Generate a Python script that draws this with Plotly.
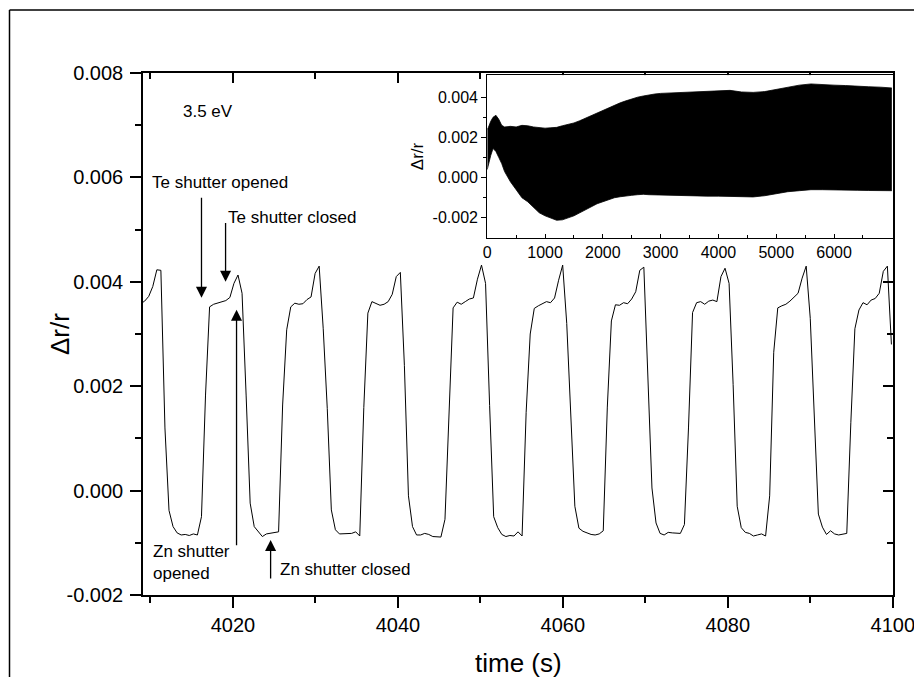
import numpy as np
import plotly.graph_objects as go

# ---------------- data ----------------
# main trace: sampled every 0.492 s starting at 4008.808 s
T_START = 4008.808
T_STEP = 0.492
DR_MAIN = [
    0.00358, 0.00363, 0.00372, 0.00391, 0.00423, 0.00422, 0.00120, -0.00038, -0.00069, -0.00081,
    -0.00085, -0.00084, -0.00086, -0.00083, -0.00085,
    -0.00050, 0.00183, 0.00352, 0.00357, 0.00359, 0.00361, 0.00364, 0.00370, 0.00397, 0.00413,
    0.00378, 0.00183, -0.00024, -0.00069, -0.00079, -0.00088, -0.00083, -0.00082, -0.00081, -0.00079,
    0.00164, 0.00308, 0.00352, 0.00359, 0.00357, 0.00358, 0.00366, 0.00371, 0.00416, 0.00430,
    0.00310, 0.00157, -0.00037, -0.00075, -0.00083, -0.00083, -0.00082, -0.00082, -0.00079, -0.00087,
    0.00159, 0.00340, 0.00362, 0.00358, 0.00355, 0.00357, 0.00362, 0.00376, 0.00410, 0.00418,
    0.00240, -0.00010, -0.00069, -0.00085, -0.00085, -0.00082, -0.00084, -0.00088, -0.00089, -0.00089,
    -0.00055, 0.00168, 0.00350, 0.00361, 0.00357, 0.00362, 0.00367, 0.00369, 0.00405, 0.00432,
    0.00397, 0.00163, -0.00050, -0.00071, -0.00084, -0.00088, -0.00086, -0.00087, -0.00079, -0.00087,
    0.00150, 0.00300, 0.00349, 0.00354, 0.00358, 0.00362, 0.00360, 0.00369, 0.00403, 0.00432,
    0.00320, 0.00140, -0.00030, -0.00072, -0.00078, -0.00081, -0.00084, -0.00085, -0.00083, -0.00077,
    0.00160, 0.00325, 0.00356, 0.00355, 0.00360, 0.00358, 0.00367, 0.00381, 0.00422, 0.00428,
    0.00220, 0.00005, -0.00062, -0.00082, -0.00085, -0.00080, -0.00081, -0.00082, -0.00082, -0.00065,
    0.00120, 0.00341, 0.00360, 0.00362, 0.00357, 0.00363, 0.00365, 0.00362, 0.00410, 0.00426,
    0.00397, 0.00203, -0.00030, -0.00071, -0.00080, -0.00082, -0.00087, -0.00085, -0.00083, -0.00087,
    -0.00010, 0.00265, 0.00350, 0.00354, 0.00357, 0.00363, 0.00370, 0.00378, 0.00407, 0.00430,
    0.00330, 0.00155, -0.00045, -0.00070, -0.00084, -0.00077, -0.00083, -0.00085, -0.00083, -0.00082,
    0.00130, 0.00310, 0.00346, 0.00360, 0.00356, 0.00365, 0.00368, 0.00378, 0.00420, 0.00430,
    0.00280,
]
TIME_MAIN = T_START + T_STEP * np.arange(len(DR_MAIN))

# inset: envelope of the full growth run
INSET_T = [0, 20, 60, 100, 150, 200, 250, 300, 400, 500, 600, 700, 800, 900, 1000, 1100, 1200,
           1300, 1400, 1500, 1600, 1700, 1800, 1900, 2000, 2100, 2200, 2300, 2400, 2500, 2600,
           2700, 2800, 2900, 3000, 3200, 3400, 3600, 3800, 4000, 4200, 4400, 4600, 4800, 5000,
           5200, 5400, 5600, 5800, 6000, 6200, 6400, 6600, 6800, 7000]
INSET_UPPER = [0.0024, 0.0025, 0.0028, 0.0030, 0.0031, 0.0029, 0.0026, 0.00252, 0.00255, 0.00252,
               0.00260, 0.00258, 0.00252, 0.00250, 0.00246, 0.00248, 0.00250, 0.00258, 0.00264,
               0.00272, 0.00283, 0.00296, 0.00308, 0.00320, 0.00333, 0.00348, 0.00362, 0.00372,
               0.00382, 0.00392, 0.00400, 0.00406, 0.00412, 0.00416, 0.00419, 0.00422, 0.00425,
               0.00427, 0.00430, 0.00432, 0.00434, 0.00426, 0.00424, 0.00428, 0.00438, 0.00450,
               0.00460, 0.00466, 0.00462, 0.00460, 0.00458, 0.00454, 0.00452, 0.00450, 0.00446]
INSET_LOWER = [0.0004, 0.0007, 0.0011, 0.00145, 0.0013, 0.0010, 0.0007, 0.0003, -0.0002, -0.0006,
               -0.0010, -0.0012, -0.0015, -0.00175, -0.0019, -0.0020, -0.00212, -0.0021, -0.0020,
               -0.0019, -0.00175, -0.0016, -0.00145, -0.0013, -0.0012, -0.0011, -0.0010, -0.00095,
               -0.0009, -0.00088, -0.00085, -0.00083, -0.00085, -0.00086, -0.00087, -0.00088,
               -0.0009, -0.0009, -0.00092, -0.00092, -0.00093, -0.00095, -0.00096, -0.0009,
               -0.0008, -0.0007, -0.00065, -0.0006, -0.0006, -0.00062, -0.00062, -0.00063,
               -0.00064, -0.00064, -0.00065]

X_TICKS = [4020, 4040, 4060, 4080, 4100]
X_TICK_TEXT = ["4020", "4040", "4060", "4080", "4100"]
X_MINOR = [4010, 4030, 4050, 4070, 4090]
Y_TICKS = [-0.002, 0.0, 0.002, 0.004, 0.006, 0.008]
Y_TICK_TEXT = ["-0.002", "0.000", "0.002", "0.004", "0.006", "0.008"]
Y_MINOR = [-0.001, 0.001, 0.003, 0.005, 0.007]
IX_TICKS = [0, 1000, 2000, 3000, 4000, 5000, 6000]
IX_TICK_TEXT = ["0", "1000", "2000", "3000", "4000", "5000", "6000"]
IX_MINOR = [500, 1500, 2500, 3500, 4500, 5500, 6500]
IY_TICKS = [-0.002, 0.0, 0.002, 0.004]
IY_TICK_TEXT = ["-0.002", "0.000", "0.002", "0.004"]
IY_MINOR = [-0.001, 0.001, 0.003]

FONT = "Arial, Liberation Sans, sans-serif"

W, H = 914, 677
ML, MT, PW, PH = 143, 73, 750, 522
MR = W - ML - PW
MB = H - MT - PH

fig = go.Figure()
fig.add_trace(go.Scatter(x=TIME_MAIN, y=DR_MAIN, mode="lines",
                         line=dict(color="black", width=1), showlegend=False,
                         xaxis="x", yaxis="y"))
# helper trace to attach the mirrored (inward-tick) axes
fig.add_trace(go.Scatter(x=[None], y=[None], mode="lines", showlegend=False,
                         hoverinfo="skip", xaxis="x2", yaxis="y2"))
# inset envelope
fig.add_trace(go.Scatter(x=INSET_T, y=INSET_LOWER, mode="lines",
                         line=dict(color="black", width=0.8), showlegend=False,
                         xaxis="x3", yaxis="y3"))
fig.add_trace(go.Scatter(x=INSET_T, y=INSET_UPPER, mode="lines", fill="tonexty",
                         fillcolor="black", line=dict(color="black", width=0.8),
                         showlegend=False, xaxis="x3", yaxis="y3"))

XR = [4009.1, 4100.02]
YR = [-0.002, 0.008]
axis_common = dict(showgrid=False, zeroline=False, showline=True, linecolor="black",
                   linewidth=1.5, tickcolor="black", tickwidth=1.5, automargin=False)

fig.update_layout(
    width=W, height=H,
    margin=dict(l=ML, r=MR, t=MT, b=MB, pad=0),
    paper_bgcolor="white", plot_bgcolor="white",
    font=dict(family=FONT, color="black"),
    showlegend=False,
    xaxis=dict(**axis_common, range=XR, domain=[0, 1], anchor="y",
               tickmode="array", tickvals=X_TICKS, ticktext=X_TICK_TEXT,
               ticks="outside", ticklen=11, ticklabeloverflow="allow",
               minor=dict(tickmode="array", tickvals=X_MINOR, ticks="outside", ticklen=6,
                          tickwidth=1.5, tickcolor="black"),
               tickfont=dict(size=20)),
    yaxis=dict(**axis_common, range=YR, domain=[0, 1], anchor="x",
               tickmode="array", tickvals=Y_TICKS, ticktext=Y_TICK_TEXT,
               ticks="outside", ticklen=11, ticklabelstandoff=3,
               minor=dict(tickmode="array", tickvals=Y_MINOR, ticks="outside", ticklen=6,
                          tickwidth=1.5, tickcolor="black"),
               tickfont=dict(size=20)),
    xaxis2=dict(**axis_common, range=XR, overlaying="x", side="top", anchor="y2",
                tickmode="array", tickvals=X_TICKS, showticklabels=False,
                ticks="inside", ticklen=10,
                minor=dict(tickmode="array", tickvals=X_MINOR, ticks="inside", ticklen=6,
                           tickwidth=1.5, tickcolor="black")),
    yaxis2=dict(**axis_common, range=YR, overlaying="y", side="right", anchor="x2",
                tickmode="array", tickvals=Y_TICKS, showticklabels=False,
                ticks="inside", ticklen=10,
                minor=dict(tickmode="array", tickvals=Y_MINOR, ticks="inside", ticklen=6,
                           tickwidth=1.5, tickcolor="black")),
    xaxis3=dict(showgrid=False, zeroline=False, showline=True, linecolor="black",
                linewidth=1.2, mirror=True, range=[0, 7020], domain=[0.459, 1.0],
                anchor="y3", tickmode="array", tickvals=IX_TICKS, ticktext=IX_TICK_TEXT,
                ticks="inside", ticklen=4, tickwidth=1.2, tickcolor="black",
                minor=dict(tickmode="array", tickvals=IX_MINOR, ticks="inside", ticklen=3,
                           tickwidth=1.2, tickcolor="black"),
                tickfont=dict(size=16), automargin=False),
    yaxis3=dict(showgrid=False, zeroline=False, showline=True, linecolor="black",
                linewidth=1.2, mirror=True, range=[-0.003, 0.0051], domain=[0.684, 0.996],
                anchor="x3", tickmode="array", tickvals=IY_TICKS, ticktext=IY_TICK_TEXT,
                ticks="outside", ticklen=5, tickwidth=1.2, tickcolor="black",
                minor=dict(tickmode="array", tickvals=IY_MINOR, ticks="outside", ticklen=3,
                           tickwidth=1.2, tickcolor="black"),
                tickfont=dict(size=16), automargin=False,
                title=dict(text="Δr/r", font=dict(size=17), standoff=4)),
)

# axis titles placed as text at fixed spots
fig.add_annotation(x=(60 - ML) / PW, y=0.5, xref="paper", yref="paper", text="Δr/r",
                   textangle=-90, showarrow=False, xanchor="center", yanchor="middle",
                   font=dict(size=26, family=FONT, color="black"))
fig.add_annotation(x=0.5, y=(MT + PH - 663) / PH, xref="paper", yref="paper",
                   text="time (s)", showarrow=False, xanchor="center", yanchor="middle",
                   font=dict(size=26, family=FONT, color="black"))

# outer frame of the figure (left and top edges visible)
fx0 = (9.5 - ML) / PW
fy1 = (MT + PH - 10) / PH
fig.add_shape(type="line", xref="paper", yref="paper", x0=fx0, x1=(W + 20 - ML) / PW,
              y0=fy1, y1=fy1, line=dict(color="black", width=1.5))
fig.add_shape(type="line", xref="paper", yref="paper", x0=fx0, x1=fx0,
              y0=fy1, y1=(MT + PH - (H + 20)) / PH, line=dict(color="black", width=1.5))

ANN_FONT = dict(size=17, family=FONT, color="black")
texts = [
    (4013.76, 0.00726, "3.5 eV"),
    (4009.91, 0.00591, "Te shutter opened"),
    (4019.11, 0.00523, "Te shutter closed"),
    (4010.04, -0.00137, "Zn shutter<br>opened"),
    (4025.50, -0.00151, "Zn shutter closed"),
]
for x, y, t in texts:
    fig.add_annotation(x=x, y=y, xref="x", yref="y", text=t, showarrow=False,
                       xanchor="left", yanchor="middle", align="left", font=ANN_FONT)

arrows = [
    # (head_x, head_y, tail_x, tail_y)
    (4016.19, 0.003695, 4016.19, 0.005638),
    (4019.11, 0.004002, 4019.11, 0.005153),
    (4020.44, 0.003465, 4020.44, -0.001074),
    (4024.57, -0.000945, 4024.57, -0.001712),
]
for hx, hy, tx, ty in arrows:
    fig.add_annotation(x=hx, y=hy, ax=tx, ay=ty, xref="x", yref="y", axref="x", ayref="y",
                       text="", showarrow=True, arrowhead=2, arrowsize=1.7, arrowwidth=1.3,
                       arrowcolor="black", standoff=0, startstandoff=0)

# remove the default 8 px page margin so the 914x677 figure fills the window exactly
fig.write_html("out.html",
               config={"displayModeBar": False},
               post_script="document.body.style.margin='0px';document.body.style.overflow='hidden';")
